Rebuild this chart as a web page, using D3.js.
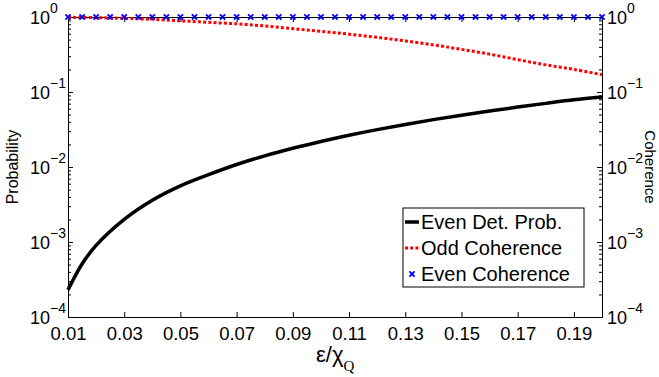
<!DOCTYPE html>
<html>
<head>
<meta charset="utf-8">
<script src="https://cdn.jsdelivr.net/npm/d3@7"></script>
<style>
  body { margin: 0; background: #fff; }
  text { font-family: "Liberation Sans", Arial, sans-serif; fill: #000; }
  .axis path, .axis line { stroke: #000; stroke-width: 1; }
</style>
</head>
<body>
<div id="chart"></div>
<script>
const width = 659;
const height = 377;
const margin = { left: 68, right: 57, top: 17, bottom: 60 };

// data
const detX = [0.01, 0.015, 0.02, 0.03, 0.04, 0.05, 0.06, 0.07, 0.08, 0.09, 0.10,
  0.11, 0.12, 0.13, 0.14, 0.15, 0.16, 0.17, 0.18, 0.19, 0.20];
const evenDetProb = [0.00023, 0.00051, 0.0009, 0.0020, 0.0036, 0.0056, 0.0079, 0.0108, 0.0141, 0.0178, 0.0219,
  0.0265, 0.0315, 0.0369, 0.0428, 0.0491, 0.0558, 0.0629, 0.0705, 0.0786, 0.0858];
const oddX = [0.01, 0.02, 0.03, 0.04, 0.05, 0.06, 0.07, 0.08, 0.09, 0.10,
  0.11, 0.12, 0.13, 0.14, 0.15, 0.16, 0.17, 0.18, 0.19, 0.20];
const oddCoherence = [0.99, 0.98, 0.96, 0.93, 0.89, 0.85, 0.81, 0.76, 0.70, 0.645,
  0.59, 0.535, 0.48, 0.425, 0.37, 0.32, 0.27, 0.23, 0.20, 0.17];
const evenCohX = [0.01, 0.015, 0.02, 0.025, 0.03, 0.035, 0.04, 0.045, 0.05, 0.055,
  0.06, 0.065, 0.07, 0.075, 0.08, 0.085, 0.09, 0.095, 0.10, 0.105,
  0.11, 0.115, 0.12, 0.125, 0.13, 0.135, 0.14, 0.145, 0.15, 0.155,
  0.16, 0.165, 0.17, 0.175, 0.18, 0.185, 0.19, 0.195, 0.20];
const evenCoherence = evenCohX.map(() => 1);

const xTicks = [0.01, 0.03, 0.05, 0.07, 0.09, 0.11, 0.13, 0.15, 0.17, 0.19];
const yMajor = [1, 0.1, 0.01, 0.001, 0.0001];
const yExp = ['0', '\u22121', '\u22122', '\u22123', '\u22124'];
const yMinor = [];
[0.0001, 0.001, 0.01, 0.1].forEach(b => [2, 3, 4, 5, 6, 7, 8, 9].forEach(m => yMinor.push(b * m)));

const legendNames = ['Even Det. Prob.', 'Odd Coherence', 'Even Coherence'];

const svg = d3.select('#chart').append('svg')
  .attr('width', width)
  .attr('height', height);

const x = d3.scaleLinear().domain([0.01, 0.2]).range([margin.left, width - margin.right]);
const y = d3.scaleLog().domain([0.0001, 1]).range([height - margin.bottom, margin.top]);

const x0 = x.range()[0], x1 = x.range()[1];
const y0 = y.range()[0], y1 = y.range()[1];

// axes, ticks pointing inward
const xAxis = d3.axisBottom(x).tickValues(xTicks).tickSize(-5).tickPadding(10)
  .tickFormat(d3.format('.2f'));
svg.append('g').attr('class', 'axis x')
  .attr('transform', `translate(0,${y0})`)
  .call(xAxis)
  .call(g => g.selectAll('text').style('font-size', '18.5px'));

svg.append('g').attr('class', 'axis top')
  .attr('transform', `translate(0,${y1})`)
  .call(d3.axisTop(x).tickValues(xTicks).tickSize(-5).tickFormat(''));

function yAxisGroup(side) {
  const left = side === 'left';
  const ax = (left ? d3.axisLeft(y) : d3.axisRight(y)).tickFormat('');
  const g = svg.append('g').attr('class', 'axis')
    .attr('transform', `translate(${left ? x0 : x1},0)`);
  g.call(ax.tickValues(yMajor).tickSize(-5));
  g.append('g').call((left ? d3.axisLeft(y) : d3.axisRight(y))
    .tickValues(yMinor).tickSize(-3).tickFormat(''))
    .call(s => s.select('.domain').remove());
  return g;
}
yAxisGroup('left');
yAxisGroup('right');

// power-of-ten labels
function powLabels(xPos) {
  const t = svg.append('g').selectAll('text').data(yMajor)
    .enter().append('text')
    .attr('x', xPos)
    .attr('y', d => y(d) + 7)
    .style('font-size', '18px');
  t.append('tspan').text('10');
  t.append('tspan')
    .attr('dy', -11)
    .style('font-size', '14px')
    .text((d, i) => yExp[i]);
}
powLabels(30);
powLabels(607);

// series
const lineOf = (xs) => d3.line()
  .x((d, i) => x(xs[i]))
  .y(d => y(d))
  .curve(d3.curveCatmullRom.alpha(0.5));

svg.append('path')
  .datum(oddCoherence)
  .attr('d', lineOf(oddX))
  .attr('fill', 'none')
  .attr('stroke', '#ff0000')
  .attr('stroke-width', 3)
  .attr('stroke-dasharray', '3,2.2');

svg.append('path')
  .datum(evenDetProb)
  .attr('d', lineOf(detX))
  .attr('fill', 'none')
  .attr('stroke', '#000')
  .attr('stroke-width', 3.5);

const ms = 2.6;
svg.append('g').selectAll('path').data(evenCoherence)
  .enter().append('path')
  .attr('d', (d, i) => {
    const cx = x(evenCohX[i]), cy = y(d);
    return `M${cx - ms},${cy - ms}L${cx + ms},${cy + ms}M${cx - ms},${cy + ms}L${cx + ms},${cy - ms}`;
  })
  .attr('stroke', '#0000ff')
  .attr('stroke-width', 1.8);

// axis titles
svg.append('text')
  .attr('transform', `translate(18,${(y0 + y1) / 2}) rotate(-90)`)
  .attr('text-anchor', 'middle')
  .style('font-size', '16px')
  .text('Probability');

svg.append('text')
  .attr('transform', `translate(645,${(y0 + y1) / 2}) rotate(90)`)
  .attr('text-anchor', 'middle')
  .style('font-size', '15px')
  .text('Coherence');

const xl = svg.append('text')
  .attr('x', 316)
  .attr('y', 362)
  .style('font-size', '22px');
xl.append('tspan').text('\u03b5/\u03c7');
xl.append('tspan')
  .attr('dy', 9)
  .style('font-family', '"Liberation Serif", "Times New Roman", serif')
  .style('font-size', '15px')
  .text('Q');

// legend
const lg = svg.append('g').attr('transform', 'translate(403,208)');
lg.append('rect')
  .attr('width', 181).attr('height', 79)
  .attr('fill', '#fff').attr('stroke', '#000').attr('stroke-width', 1);
const rowY = d3.scalePoint().domain(legendNames).range([14, 66]);
const rows = lg.selectAll('g.row').data(legendNames).enter().append('g')
  .attr('class', 'row')
  .attr('transform', d => `translate(0,${rowY(d)})`);
rows.append('text')
  .attr('x', 18)
  .attr('y', 7)
  .style('font-size', '20px')
  .text(d => d);
rows.filter((d, i) => i === 0).append('line')
  .attr('x1', 2).attr('x2', 16).attr('stroke', '#000').attr('stroke-width', 3.5);
rows.filter((d, i) => i === 1).append('line')
  .attr('x1', 2).attr('x2', 16).attr('stroke', '#ff0000').attr('stroke-width', 3)
  .attr('stroke-dasharray', '3,2.2');
rows.filter((d, i) => i === 2).append('path')
  .attr('d', `M${9 - ms},${-ms}L${9 + ms},${ms}M${9 - ms},${ms}L${9 + ms},${-ms}`)
  .attr('stroke', '#0000ff').attr('stroke-width', 1.8);
</script>
</body>
</html>
